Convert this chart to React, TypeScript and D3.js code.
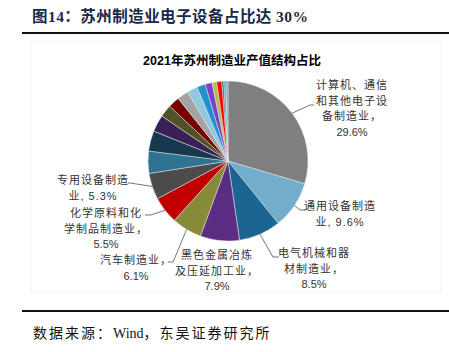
import React from "react";
import * as d3 from "d3";

// 2021 Suzhou manufacturing output structure (%), clockwise from 12 o'clock
const sectors = [
  "计算机、通信和其他电子设备制造业",
  "通用设备制造业",
  "电气机械和器材制造业",
  "黑色金属冶炼及压延加工业",
  "汽车制造业",
  "化学原料和化学制品制造业",
  "专用设备制造业",
  "other1", "other2", "other3", "other4", "other5", "other6", "other7",
  "other8", "other9", "other10", "other11", "other12", "other13", "other14",
];
const shares = [
  29.6, 9.6, 8.5, 7.9, 6.1, 5.5, 5.3,
  4.5, 4.1, 3.4, 2.5, 2.3, 2.3, 2.1, 1.7, 1.4, 0.95, 1.0, 0.4, 0.45, 0.4,
];
const colors = [
  "#7f7f7f", "#72aecb", "#1b6690", "#5a2d82", "#868a39", "#c00000", "#4b4b4b",
  "#2f7291", "#16394f", "#3a2055", "#4f5227", "#770000", "#a3a3a3", "#92c8dd",
  "#2090d0", "#7c40c8", "#b7bc4e", "#ff0000", "#5a5a5a", "#3fa9e0", "#6fa6c4",
];

// label text for the named slices
const labelLines: string[][] = [
  ["计算机、通信", "和其他电子设", "备制造业，", "29.6%"],
  ["通用设备制造", "业, 9.6%"],
  ["电气机械和器", "材制造业，", "8.5%"],
  ["黑色金属冶炼", "及压延加工业，", "7.9%"],
  ["汽车制造业，", "6.1%"],
  ["化学原料和化", "学制品制造业，", "5.5%"],
  ["专用设备制造", "业, 5.3%"],
];

// label layout: text anchor + leader elbow/end (null = no leader)
const labelPos = [
  { x: 352, y: 85, leader: [[310, 105], [314, 105]] },
  { x: 340, y: 206, leader: [[300, 210], [305, 210]] },
  { x: 314, y: 253, leader: [[273, 257], [279, 257]] },
  { x: 217, y: 255, leader: null },
  { x: 136, y: 260, leader: [[173, 262], [168, 262]] },
  { x: 106, y: 213, leader: [[151, 215], [145, 215]] },
  { x: 93, y: 180, leader: [[130, 183], [128, 183]] },
];

const W = 449;
const H = 352;
const cx = 228;
const cy = 161;
const R = 80;

const serif = "'Liberation Serif', 'Noto Sans CJK SC', serif";
const sans = "'Liberation Sans', 'Noto Sans CJK SC', sans-serif";

export default function App() {
  const pie = d3
    .pie<number>()
    .sort(null)
    .value((d) => d);
  const arcs = pie(shares);
  const arc = d3.arc<d3.PieArcDatum<number>>().innerRadius(0).outerRadius(R);
  const line = d3.line();

  return (
    <svg
      width={W}
      height={H}
      style={{ position: "absolute", left: 0, top: 0, background: "#fff" }}
    >
      <text
        x={32}
        y={22}
        fontFamily={serif}
        fontWeight="bold"
        fontSize={15.5}
        fill="#1c2848"
        textLength={276}
        lengthAdjust="spacing"
      >
        图14：苏州制造业电子设备占比达 30%
      </text>
      <rect x={22} y={32} width={W - 22} height={2} fill="#111" />

      <rect x={31} y={42} width={410} height={250} fill="none" stroke="#f3f3f3" />

      <text
        x={232}
        y={61}
        textAnchor="middle"
        dominantBaseline="central"
        fontFamily={sans}
        fontWeight="bold"
        fontSize={12.5}
        fill="#000"
      >
        2021年苏州制造业产值结构占比
      </text>

      <g transform={`translate(${cx},${cy})`}>
        {arcs.map((a, i) => (
          <path
            key={sectors[i]}
            d={arc(a) || ""}
            fill={colors[i]}
            stroke="#e6e6e6"
            strokeWidth={0.5}
          />
        ))}
      </g>

      {labelLines.map((lines, i) => {
        const a = arcs[i];
        const mid = (a.startAngle + a.endAngle) / 2;
        const ex = cx + R * Math.sin(mid);
        const ey = cy - R * Math.cos(mid);
        const p = labelPos[i];
        return (
          <g key={sectors[i]}>
            {p.leader && (
              <path
                d={line([[ex, ey], ...(p.leader as [number, number][])]) || ""}
                fill="none"
                stroke="#505050"
                strokeWidth={0.8}
              />
            )}
            {lines.map((t, j) => (
              <text
                key={j}
                x={p.x}
                y={p.y + j * 15.5}
                textAnchor="middle"
                dominantBaseline="central"
                fontFamily={sans}
                fontSize={11}
                letterSpacing={/^[\d.%]+$/.test(t) ? 0 : 1}
                fill="#333"
              >
                {t}
              </text>
            ))}
          </g>
        );
      })}

      <rect x={22} y={310} width={W - 22} height={2} fill="#111" />
      <text x={33} y={338} fontFamily={serif} fontSize={14} fill="#111">
        <tspan letterSpacing={2}>数据来源：</tspan>
        <tspan>Wind</tspan>
        <tspan letterSpacing={2}>，东吴证券研究所</tspan>
      </text>
    </svg>
  );
}
